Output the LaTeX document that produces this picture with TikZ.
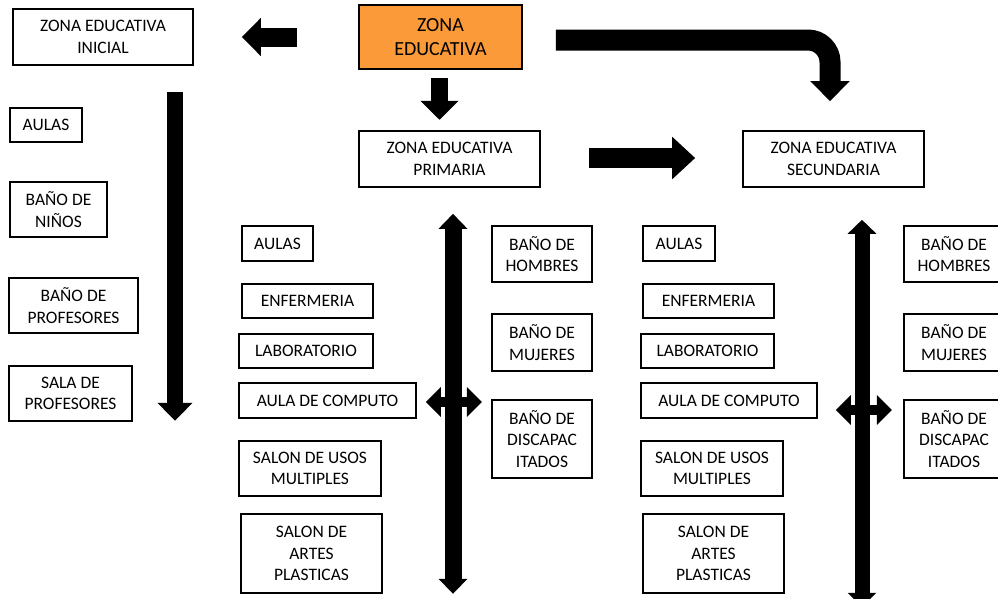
\documentclass[tikz,border=0pt]{standalone}
\usepackage{fontspec}
\setmainfont{Carlito}
\usetikzlibrary{arrows.meta, positioning, calc}

\begin{document}
\begin{tikzpicture}[x=1pt, y=-1pt, font=\fontsize{17.5}{21.4}\selectfont]
  % Define colors
  \definecolor{zonaorange}{RGB}{250, 154, 56}

  % Styles for boxes and block arrows
  \tikzset{
    room/.style 2 args={draw, line width=1.6pt, inner sep=0pt, align=center,
      minimum width=#1pt, minimum height=#2pt},
    blockarrow/.style n args={3}{line width=#1pt,
      arrows={-Triangle[width=#2pt, length=#3pt]}},
    dblarrow/.style n args={3}{line width=#1pt,
      arrows={Triangle[width=#2pt, length=#3pt]-Triangle[width=#2pt, length=#3pt]}}
  }

  % Picture frame
  \clip (0,0) rectangle (998,598);

  % Main zones
  \node[room={163}{64}, fill=zonaorange, font=\fontsize{20}{24.3}\selectfont]
    (zona) at (440.5,37) {ZONA\\EDUCATIVA};
  \node[room={180}{56}] (inicial) at (103,37) {ZONA EDUCATIVA\\INICIAL};
  \node[room={181}{56}] (primaria) at (449.5,159) {ZONA EDUCATIVA\\PRIMARIA};
  \node[room={181}{56}] (secundaria) at (833.5,159) {ZONA EDUCATIVA\\SECUNDARIA};

  % Inicial rooms
  \node[room={72}{34}] (i-aulas) at (46,125) {AULAS};
  \node[room={97}{55}] (i-ninos) at (58.5,209.5) {BAÑO DE\\NIÑOS};
  \node[room={129}{55}] (i-banoprof) at (73.5,305.5) {BAÑO DE\\PROFESORES};
  \node[room={123}{55}] (i-sala) at (70.5,393.5) {SALA DE\\PROFESORES};

  % Primaria rooms
  \node[room={71}{35}] (p-aulas) at (277.5,243.5) {AULAS};
  \node[room={131}{34}] (p-enf) at (307.5,301) {ENFERMERIA};
  \node[room={134}{34}] (p-lab) at (306,351) {LABORATORIO};
  \node[room={177}{35}] (p-comp) at (327.5,400.5) {AULA DE COMPUTO};
  \node[room={142}{55}] (p-usos) at (310,468.5) {SALON DE USOS\\MULTIPLES};
  \node[room={141}{79}] (p-artes) at (311.5,553.5) {SALON DE\\ARTES\\PLASTICAS};
  \node[room={100}{56}] (p-hom) at (542,254) {BAÑO DE\\HOMBRES};
  \node[room={100}{57}] (p-muj) at (542,342.5) {BAÑO DE\\MUJERES};
  \node[room={100}{78}] (p-dis) at (542,439) {BAÑO DE\\DISCAPAC\\ITADOS};

  % Secundaria rooms
  \node[room={72}{35}] (s-aulas) at (679,243.5) {AULAS};
  \node[room={131}{34}] (s-enf) at (708.5,301) {ENFERMERIA};
  \node[room={133}{34}] (s-lab) at (707.5,351) {LABORATORIO};
  \node[room={176}{35}] (s-comp) at (729,400.5) {AULA DE COMPUTO};
  \node[room={142}{55}] (s-usos) at (712,468.5) {SALON DE USOS\\MULTIPLES};
  \node[room={141}{79}] (s-artes) at (713.5,553.5) {SALON DE\\ARTES\\PLASTICAS};
  \node[room={100}{56}] (s-hom) at (954,254) {BAÑO DE\\HOMBRES};
  \node[room={100}{57}] (s-muj) at (954,342.5) {BAÑO DE\\MUJERES};
  \node[room={100}{78}] (s-dis) at (954,439) {BAÑO DE\\DISCAPAC\\ITADOS};

  % Arrows from the main zone
  \draw[blockarrow={19}{37}{19}] ($(zona.west)+(-61,0)$) -- ($(inicial.east)+(48,0)$);
  \draw[blockarrow={17}{37}{19}] ($(zona.south)+(-1,8)$) -- ($(zona.south)+(-1,50)$);
  \draw[blockarrow={21}{38}{20}, rounded corners=22pt]
    ($(zona.east)+(33,3)$) -| ($(secundaria.north)+(-3.5,-29)$);
  \draw[blockarrow={20}{41}{23}] ($(primaria.east)+(48,-1)$) -- ($(secundaria.west)+(-47,-1)$);

  % Inicial arrow
  \draw[blockarrow={16}{34}{18}] ($(inicial.south)+(72,26)$) -- ($(inicial.south)+(72,355)$);

  % Primaria arrows
  \draw[dblarrow={17}{28}{15}] ($(primaria.south)+(3.5,26)$) -- ($(primaria.south)+(3.5,406)$);
  \draw[dblarrow={10}{29}{15}] ($(p-comp.east)+(9,1.5)$) -- ($(p-comp.east)+(65,1.5)$);

  % Secundaria arrows
  \draw[dblarrow={15}{28}{14}] ($(secundaria.south)+(28.5,32)$) -- ($(secundaria.south)+(28.5,419)$);
  \draw[dblarrow={10}{29}{15}] ($(s-comp.east)+(18,9.5)$) -- ($(s-comp.east)+(74,9.5)$);
\end{tikzpicture}
\end{document}
